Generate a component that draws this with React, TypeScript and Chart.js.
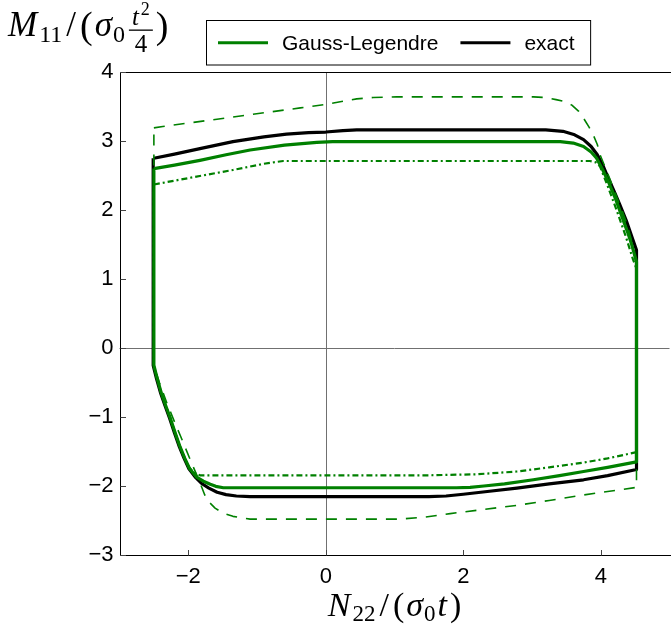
import React, { useEffect, useRef } from "react";
import { Chart, registerables } from "chart.js";

Chart.register(...registerables);

const GREEN = "#008000";
const BLACK = "#000000";

// Exact yield surface, traced clockwise from the upper-left corner
const exactN = [-2.5, -2.2, -1.83, -1.35, -0.9, -0.57, -0.25, 0.0, 0.25, 0.45, 3.2, 3.45, 3.62, 3.75, 3.86, 3.95, 4.03, 4.11, 4.2, 4.28, 4.37, 4.45, 4.52, 4.52, 4.1, 3.75, 3.25, 2.78, 2.35, 2.0, 1.75, 1.5, -1.1, -1.3, -1.45, -1.58, -1.7, -1.81, -1.89, -1.99, -2.06, -2.13, -2.2, -2.27, -2.34, -2.4, -2.46, -2.51, -2.51];
const exactM = [2.75, 2.81, 2.89, 2.99, 3.06, 3.1, 3.12, 3.13, 3.15, 3.16, 3.16, 3.14, 3.09, 3.02, 2.92, 2.8, 2.65, 2.46, 2.26, 2.07, 1.85, 1.62, 1.42, -1.76, -1.85, -1.91, -1.97, -2.03, -2.08, -2.12, -2.145, -2.155, -2.155, -2.145, -2.125, -2.09, -2.03, -1.96, -1.88, -1.75, -1.6, -1.43, -1.23, -1.02, -0.83, -0.66, -0.45, -0.25, 2.75];

// Gauss-Legendre integration
const gaussN = [-2.5, -2.2, -1.83, -1.45, -1.1, -0.6, -0.13, 0.1, 3.41, 3.6, 3.75, 3.86, 3.94, 4.03, 4.12, 4.22, 4.31, 4.39, 4.45, 4.52, 4.52, 4.1, 3.75, 3.4, 3.02, 2.6, 2.3, 2.1, 1.9, -1.49, -1.6, -1.68, -1.78, -1.88, -1.98, -2.05, -2.12, -2.19, -2.26, -2.33, -2.39, -2.45, -2.5, -2.5];
const gaussM = [2.6, 2.65, 2.72, 2.8, 2.87, 2.94, 2.98, 2.99, 2.99, 2.97, 2.92, 2.84, 2.75, 2.58, 2.39, 2.15, 1.9, 1.68, 1.5, 1.25, -1.65, -1.73, -1.79, -1.85, -1.91, -1.97, -2.0, -2.02, -2.025, -2.025, -2.005, -1.975, -1.93, -1.87, -1.75, -1.6, -1.43, -1.23, -1.02, -0.83, -0.66, -0.45, -0.25, 2.6];

// Upper estimate (dashed)
const upperN = [-2.5, -2.37, -0.37, 0.0, 0.21, 0.45, 0.69, 1.03, 3.02, 3.2, 3.35, 3.48, 3.58, 3.68, 3.75, 3.83, 3.89, 3.95, 3.99, 4.06, 4.14, 4.22, 4.3, 4.38, 4.45, 4.52, 4.52, 4.1, 3.75, 3.25, 2.78, 2.3, 1.81, 1.45, 1.08, -1.1, -1.35, -1.5, -1.61, -1.7, -1.76, -1.85, -1.95, -2.09, -2.2, -2.31, -2.42, -2.5, -2.5];
const upperM = [3.19, 3.21, 3.48, 3.53, 3.57, 3.61, 3.63, 3.64, 3.64, 3.63, 3.6, 3.57, 3.52, 3.43, 3.33, 3.2, 3.09, 2.95, 2.8, 2.63, 2.43, 2.22, 2.02, 1.8, 1.55, 1.2, -2.02, -2.08, -2.13, -2.21, -2.28, -2.34, -2.4, -2.45, -2.48, -2.48, -2.44, -2.39, -2.32, -2.23, -2.13, -1.9, -1.67, -1.33, -1.07, -0.8, -0.5, -0.25, 3.19];

// Lower estimate (dash-dot)
const lowerN = [-2.5, -1.9, -1.35, -0.9, -0.62, 3.84, 3.93, 3.99, 4.1, 4.23, 4.36, 4.47, 4.52, 4.52, 4.1, 3.75, 3.25, 2.78, 2.2, 1.5, -1.83, -1.92, -1.99, -2.05, -2.12, -2.19, -2.26, -2.33, -2.39, -2.45, -2.5, -2.5];
const lowerM = [2.37, 2.48, 2.58, 2.67, 2.71, 2.71, 2.69, 2.63, 2.35, 2.0, 1.63, 1.28, 1.15, -1.51, -1.6, -1.66, -1.73, -1.79, -1.83, -1.845, -1.845, -1.8, -1.73, -1.6, -1.43, -1.23, -1.02, -0.83, -0.66, -0.45, -0.25, 2.37];

const X_TICKS = [-2, 0, 2, 4];
const Y_TICKS = [-3, -2, -1, 0, 1, 2, 3, 4];
const X_MIN = -3;
const X_MAX = 5;
const Y_MIN = -3;
const Y_MAX = 4;
const LEGEND_ENTRIES = ["Gauss-Legendre", "exact"];

const SANS = '"Liberation Sans", Arial, Helvetica, sans-serif';
const SERIF = '"Liberation Serif", "Times New Roman", serif';

const toPoints = (xs: number[], ys: number[]) => xs.map((x, i) => ({ x, y: ys[i] }));
const fmt = (v: number) => (v < 0 ? "\u2212" + Math.abs(v) : String(v));

type Piece = { t: string; font: string; dy?: number; gap?: number };

function runWidth(ctx: CanvasRenderingContext2D, pieces: Piece[]) {
  let w = 0;
  pieces.forEach((p, i) => {
    ctx.font = p.font;
    w += ctx.measureText(p.t).width + (i < pieces.length - 1 ? p.gap ?? 0 : 0);
  });
  return w;
}

function drawRun(ctx: CanvasRenderingContext2D, pieces: Piece[], x: number, baseline: number) {
  let cx = x;
  for (const p of pieces) {
    ctx.font = p.font;
    ctx.fillText(p.t, cx, baseline + (p.dy ?? 0));
    cx += ctx.measureText(p.t).width + (p.gap ?? 0);
  }
  return cx;
}

const framePlugin = {
  id: "frame",
  beforeDatasetsDraw(chart: any) {
    const { ctx, chartArea: a, scales } = chart;
    const xs = scales.x;
    const ys = scales.y;
    ctx.save();
    // zero lines
    ctx.strokeStyle = "#707070";
    ctx.lineWidth = 1;
    const x0 = Math.round(xs.getPixelForValue(0)) + 0.5;
    const y0 = Math.round(ys.getPixelForValue(0)) + 0.5;
    ctx.beginPath();
    ctx.moveTo(x0, a.top);
    ctx.lineTo(x0, a.bottom);
    ctx.moveTo(a.left, y0);
    ctx.lineTo(a.right, y0);
    ctx.stroke();
    // axes
    ctx.strokeStyle = "#000";
    const L = Math.round(a.left) + 0.5;
    const B = Math.round(a.bottom) + 0.5;
    const T = Math.round(a.top) + 0.5;
    ctx.beginPath();
    ctx.moveTo(L, T);
    ctx.lineTo(L, B);
    ctx.lineTo(a.right + 2, B);
    ctx.moveTo(L, T);
    ctx.lineTo(a.right + 2, T);
    ctx.stroke();
    // inward tick marks
    ctx.strokeStyle = "#444";
    ctx.beginPath();
    X_TICKS.forEach((v) => {
      const px = Math.round(xs.getPixelForValue(v)) + 0.5;
      ctx.moveTo(px, B);
      ctx.lineTo(px, B - 5.5);
    });
    Y_TICKS.forEach((v) => {
      const py = Math.round(ys.getPixelForValue(v)) + 0.5;
      ctx.moveTo(L, py);
      ctx.lineTo(L + 5.5, py);
    });
    ctx.stroke();
    ctx.restore();
  },
  afterDraw(chart: any) {
    const { ctx } = chart;
    ctx.save();
    ctx.fillStyle = "#000";
    ctx.textBaseline = "alphabetic";
    ctx.textAlign = "left";

    // legend
    const lf = `21px ${SANS}`;
    ctx.font = lf;
    const boxL = 206.5;
    const boxT = 20.5;
    const boxH = 44.5;
    const rowY = boxT + boxH / 2;
    let cx = boxL + 11.5;
    const items = LEGEND_ENTRIES.map((label) => chart.data.datasets.find((d: any) => d.label === label));
    const segs: { ds: any; x: number }[] = [];
    items.forEach((ds: any) => {
      segs.push({ ds, x: cx });
      cx += 64 + ctx.measureText(ds.label).width + 22;
    });
    const boxR = cx - 22 + 16;
    ctx.fillStyle = "#fff";
    ctx.fillRect(boxL, boxT, boxR - boxL, boxH);
    ctx.strokeStyle = "#000";
    ctx.lineWidth = 1;
    ctx.strokeRect(boxL, boxT, boxR - boxL, boxH);
    segs.forEach(({ ds, x }) => {
      ctx.strokeStyle = ds.borderColor;
      ctx.lineWidth = ds.borderWidth;
      ctx.setLineDash(ds.borderDash || []);
      ctx.beginPath();
      ctx.moveTo(x, rowY);
      ctx.lineTo(x + 50, rowY);
      ctx.stroke();
      ctx.setLineDash([]);
      ctx.fillStyle = "#000";
      ctx.font = lf;
      ctx.textBaseline = "middle";
      ctx.fillText(ds.label, x + 64, rowY + 1);
    });
    ctx.textBaseline = "alphabetic";

    // x title: N22/(σ0 t)
    const xPieces: Piece[] = [
      { t: "N", font: `italic 34px ${SERIF}`, gap: 2 },
      { t: "22", font: `23px ${SERIF}`, dy: 5, gap: 4 },
      { t: "/", font: `34px ${SERIF}`, gap: 4 },
      { t: "(", font: `34px ${SERIF}`, gap: 2 },
      { t: "\u03c3", font: `italic 34px ${SERIF}`, gap: 1 },
      { t: "0", font: `23px ${SERIF}`, dy: 5, gap: 2 },
      { t: "t", font: `italic 34px ${SERIF}`, gap: 3 },
      { t: ")", font: `34px ${SERIF}` },
    ];
    const xa = chart.chartArea;
    const xw = runWidth(ctx, xPieces);
    drawRun(ctx, xPieces, (xa.left + xa.right) / 2 - xw / 2, 616);

    // y title: M11/(σ0 t²/4)
    const base = 36;
    const head: Piece[] = [
      { t: "M", font: `italic 35px ${SERIF}`, gap: 2 },
      { t: "11", font: `24px ${SERIF}`, dy: 6, gap: 4 },
      { t: "/", font: `35px ${SERIF}`, gap: 4 },
      { t: "(", font: `38px ${SERIF}`, dy: 2, gap: 2 },
      { t: "\u03c3", font: `italic 35px ${SERIF}`, gap: 1 },
      { t: "0", font: `24px ${SERIF}`, dy: 6, gap: 4 },
    ];
    let yx = drawRun(ctx, head, 8, base);
    // fraction t^2 over 4
    ctx.font = `italic 25px ${SERIF}`;
    const tw = ctx.measureText("t").width;
    ctx.font = `18px ${SERIF}`;
    const sw = ctx.measureText("2").width;
    const numW = tw + 2 + sw;
    ctx.font = `25px ${SERIF}`;
    const denW = ctx.measureText("4").width;
    const fw = Math.max(numW, denW) + 6;
    ctx.font = `italic 25px ${SERIF}`;
    ctx.fillText("t", yx + (fw - numW) / 2, 25);
    ctx.font = `18px ${SERIF}`;
    ctx.fillText("2", yx + (fw - numW) / 2 + tw + 2, 15);
    ctx.fillRect(yx, 29.5, fw, 1.3);
    ctx.font = `25px ${SERIF}`;
    ctx.fillText("4", yx + (fw - denW) / 2, 52);
    yx += fw + 3;
    drawRun(ctx, [{ t: ")", font: `38px ${SERIF}`, dy: 2 }], yx, base);

    ctx.restore();
  },
};

export default function App() {
  const canvasRef = useRef<HTMLCanvasElement | null>(null);

  useEffect(() => {
    if (!canvasRef.current) return;
    const line = (label: string, xs: number[], ys: number[], color: string, width: number, dash: number[], order: number) => ({
      label,
      data: toPoints(xs, ys),
      showLine: true,
      borderColor: color,
      backgroundColor: color,
      borderWidth: width,
      borderDash: dash,
      borderJoinStyle: "round" as const,
      pointRadius: 0,
      pointHoverRadius: 0,
      fill: false,
      tension: 0,
      order,
    });

    const chart = new Chart(canvasRef.current, {
      type: "scatter",
      data: {
        datasets: [
          line("exact", exactN, exactM, BLACK, 3.2, [], 4),
          line("Gauss-Legendre", gaussN, gaussM, GREEN, 3.2, [], 3),
          line("upper", upperN, upperM, GREEN, 1.6, [11, 9], 2),
          line("lower", lowerN, lowerM, GREEN, 2.2, [6, 3, 2, 3], 1),
        ],
      },
      options: {
        animation: false,
        responsive: false,
        devicePixelRatio: 1,
        events: [],
        layout: { padding: { top: 72, right: 1.5, left: 0, bottom: 0 } },
        plugins: {
          legend: { display: false },
          tooltip: { enabled: false },
          title: { display: false },
        },
        scales: {
          x: {
            type: "linear",
            min: X_MIN,
            max: X_MAX,
            grid: { display: false, drawTicks: false },
            border: { display: false },
            afterBuildTicks: (s: any) => {
              s.ticks = X_TICKS.map((value) => ({ value }));
            },
            afterFit: (s: any) => {
              s.height = 78;
            },
            ticks: {
              autoSkip: false,
              maxRotation: 0,
              padding: 9,
              color: "#000",
              font: { family: SANS, size: 22 },
              callback: (v: any) => fmt(Number(v)),
            },
          },
          y: {
            type: "linear",
            min: Y_MIN,
            max: Y_MAX,
            grid: { display: false, drawTicks: false },
            border: { display: false },
            afterBuildTicks: (s: any) => {
              s.ticks = Y_TICKS.map((value) => ({ value }));
            },
            afterFit: (s: any) => {
              s.width = 119.5;
            },
            ticks: {
              autoSkip: false,
              padding: 6,
              color: "#000",
              font: { family: SANS, size: 22 },
              callback: (v: any) => fmt(Number(v)),
            },
          },
        },
      },
      plugins: [framePlugin],
    });
    return () => chart.destroy();
  }, []);

  return (
    <div style={{ position: "absolute", left: 0, top: 0, width: 671, height: 633, background: "#fff" }}>
      <canvas ref={canvasRef} width={671} height={633} style={{ width: 671, height: 633, display: "block" }} />
    </div>
  );
}
